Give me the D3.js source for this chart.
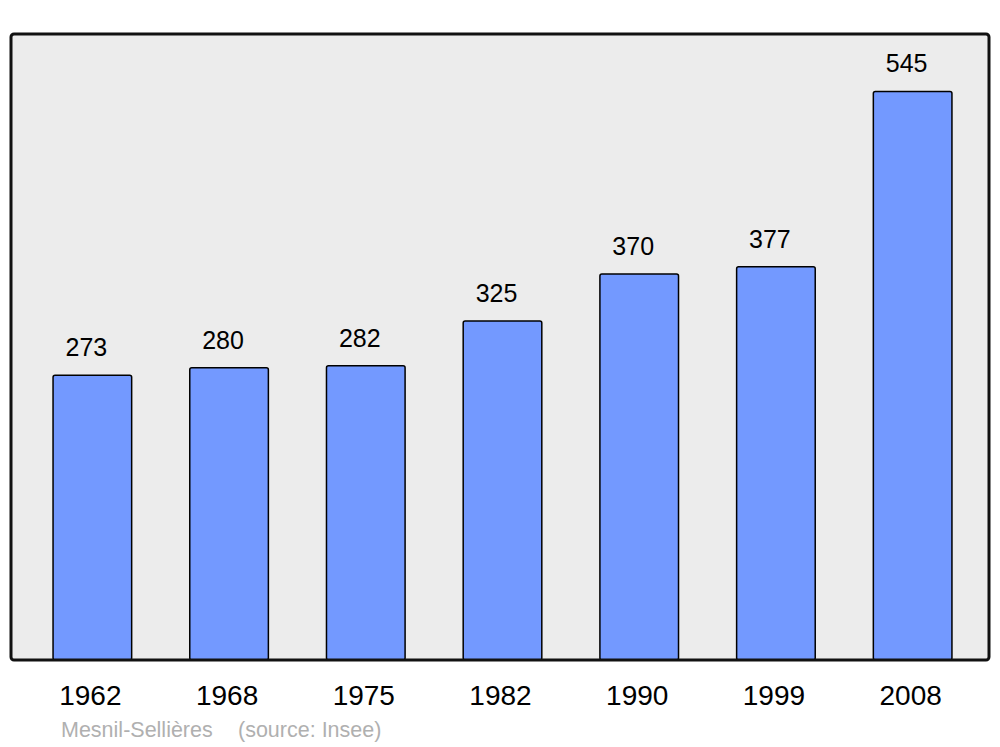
<!DOCTYPE html>
<html><head><meta charset="utf-8">
<script src="https://cdn.jsdelivr.net/npm/d3@7"></script>
<style>body{margin:0;background:#fff}svg{display:block}text{font-family:"Liberation Sans",Arial,sans-serif}</style>
</head><body>
<svg id="c" width="1000" height="747"></svg>
<script>
const years = ["1962","1968","1975","1982","1990","1999","2008"];
const population = [273, 280, 282, 325, 370, 377, 545];
const title = "Mesnil-Sellières";
const source = "(source: Insee)";

const svg = d3.select("#c");
const panel = {x0: 11, x1: 989, y0: 34, y1: 660};

svg.append("rect").attr("x", panel.x0).attr("y", panel.y0)
  .attr("width", panel.x1 - panel.x0).attr("height", panel.y1 - panel.y0)
  .attr("rx", 3).attr("fill", "#ececec");

const x = d3.scaleBand().domain(years).range([24, 981]).paddingInner(0.425).paddingOuter(0.2125);
const y = d3.scaleLinear().domain([0, 600]).range([panel.y1, panel.y0]);

svg.selectAll("rect.bar").data(years).join("rect").attr("class", "bar")
  .attr("x", d => x(d)).attr("width", x.bandwidth())
  .attr("y", (d, i) => y(population[i]))
  .attr("height", (d, i) => y(0) - y(population[i]))
  .attr("rx", 2).attr("fill", "#7399ff").attr("stroke", "#000").attr("stroke-width", 1.5);

svg.selectAll("text.val").data(years).join("text").attr("class", "val")
  .attr("x", d => x(d) + x.bandwidth() / 2 - 6)
  .attr("y", (d, i) => y(population[i]) - 19)
  .attr("text-anchor", "middle").attr("font-size", 25).attr("fill", "#000")
  .text((d, i) => population[i]);

svg.append("rect").attr("x", panel.x0).attr("y", panel.y0)
  .attr("width", panel.x1 - panel.x0).attr("height", panel.y1 - panel.y0)
  .attr("rx", 3).attr("fill", "none").attr("stroke", "#111").attr("stroke-width", 3);

const xAxis = d3.axisBottom(x).tickSize(0).tickPadding(0);
const gx = svg.append("g").attr("transform", `translate(-2,${panel.y1})`).call(xAxis);
gx.select(".domain").remove();
gx.selectAll("text").attr("y", 0).attr("dy", 0).attr("transform", "translate(0,45)")
  .attr("font-size", 28).attr("font-family", "Liberation Sans, Arial, sans-serif").attr("fill", "#000");

svg.append("text").attr("x", 61).attr("y", 737).attr("font-size", 21.5).attr("fill", "#b0b0b0").text(title);
svg.append("text").attr("x", 238).attr("y", 737).attr("font-size", 21.5).attr("fill", "#b0b0b0").text(source);
</script>
</body></html>
